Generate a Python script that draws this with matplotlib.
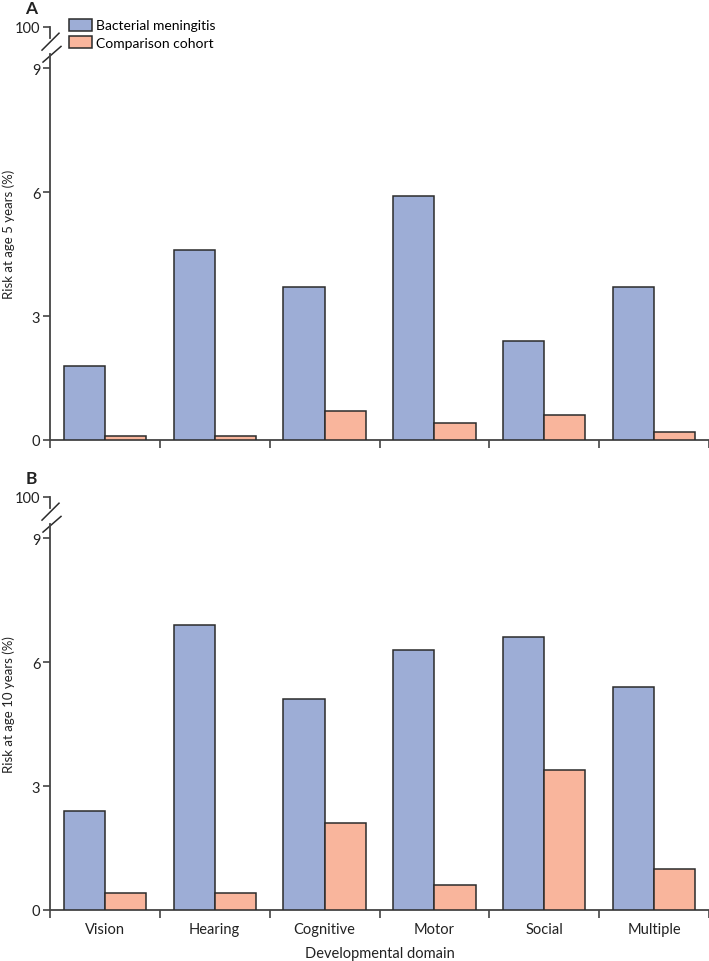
import numpy as np
import matplotlib
matplotlib.use("Agg")
import matplotlib.pyplot as plt
from matplotlib.patches import Patch

plt.rcParams['font.family'] = ['Lato', 'DejaVu Sans']

domains = ["Vision", "Hearing", "Cognitive", "Motor", "Social", "Multiple"]
meningitis_5y = [1.8, 4.6, 3.7, 5.9, 2.4, 3.7]
comparison_5y = [0.1, 0.1, 0.7, 0.4, 0.6, 0.2]
meningitis_10y = [2.4, 6.9, 5.1, 6.3, 6.6, 5.4]
comparison_10y = [0.4, 0.4, 2.1, 0.6, 3.4, 1.0]

ytick_vals = [0, 3, 6, 9, 10]
ytick_labels = ["0", "3", "6", "9", "100"]

blue = "#9dadd6"
orange = "#f9b59c"
edge = "#2b2b2b"
axcol = "#444444"

W, H = 709, 962
fig = plt.figure(figsize=(W / 100, H / 100), dpi=100)


def panel(rect, blue_vals, orange_vals, ylabel, letter, show_xlabels):
    ax = fig.add_axes(rect)
    x = np.arange(len(domains)) + 0.5
    w = 0.375
    ax.bar(x - w / 2, blue_vals, w, color=blue, edgecolor=edge, linewidth=1.1, zorder=3)
    ax.bar(x + w / 2, orange_vals, w, color=orange, edgecolor=edge, linewidth=1.1, zorder=3)
    ax.set_xlim(0, len(domains))
    ax.set_ylim(0, 10)

    for s in ["top", "right", "left"]:
        ax.spines[s].set_visible(False)
    ax.spines["bottom"].set_color(axcol)
    ax.spines["bottom"].set_linewidth(1.3)

    # broken left axis
    tr = ax.get_yaxis_transform()
    ax.plot([0, 0], [0, 9.34], color=axcol, lw=1.3, transform=tr, clip_on=False, zorder=4)
    ax.plot([0, 0], [9.73, 10], color=axcol, lw=1.3, transform=tr, clip_on=False, zorder=4)
    dx = 1.0 / 659
    ax.plot([-8 * dx, 9 * dx], [9.44, 9.85], color=edge, lw=1.1, transform=tr, clip_on=False)
    ax.plot([-7 * dx, 11 * dx], [9.15, 9.53], color=edge, lw=1.1, transform=tr, clip_on=False)

    ax.set_yticks(ytick_vals)
    ax.set_yticklabels(ytick_labels)
    ax.tick_params(axis="y", direction="out", length=5, width=1.2, color=axcol,
                   labelsize=10.5, pad=2, labelcolor="#222222")

    ax.set_xticks(np.arange(len(domains) + 1), minor=True)
    ax.set_xticks(x)
    ax.tick_params(axis="x", which="minor", direction="out", length=6, width=1.2, color=axcol)
    ax.tick_params(axis="x", which="major", length=0, pad=9, labelsize=10.5, labelcolor="#222222")
    if show_xlabels:
        ax.set_xticklabels(domains)
        ax.set_xlabel("Developmental domain", fontsize=10.5, labelpad=7, color="#222222")
    else:
        ax.set_xticklabels([])

    ax.set_ylabel(ylabel, fontsize=9.5, color="#222222")
    ax.yaxis.set_label_coords(-0.053, 0.5)
    ax.text(-0.028, 1.045, letter, transform=ax.transAxes, fontsize=12.5,
            fontweight="bold", ha="center", va="center", color="#222222")
    return ax


axA = panel([50 / W, 1 - 441 / H, 659 / W, 413 / H], meningitis_5y, comparison_5y,
            "Risk at age 5 years (%)", "A", False)
axB = panel([50 / W, 1 - 911 / H, 659 / W, 413 / H], meningitis_10y, comparison_10y,
            "Risk at age 10 years (%)", "B", True)

handles = [Patch(facecolor=blue, edgecolor=edge, linewidth=1.1, label="Bacterial meningitis"),
           Patch(facecolor=orange, edgecolor=edge, linewidth=1.1, label="Comparison cohort")]
axA.legend(handles=handles, loc="upper left", bbox_to_anchor=(0.021, 1.034), frameon=False,
           fontsize=10, handlelength=1.6, handleheight=1.0, handletextpad=0.35,
           labelspacing=0.3, borderaxespad=0)

fig.savefig("out.png", dpi=100)
